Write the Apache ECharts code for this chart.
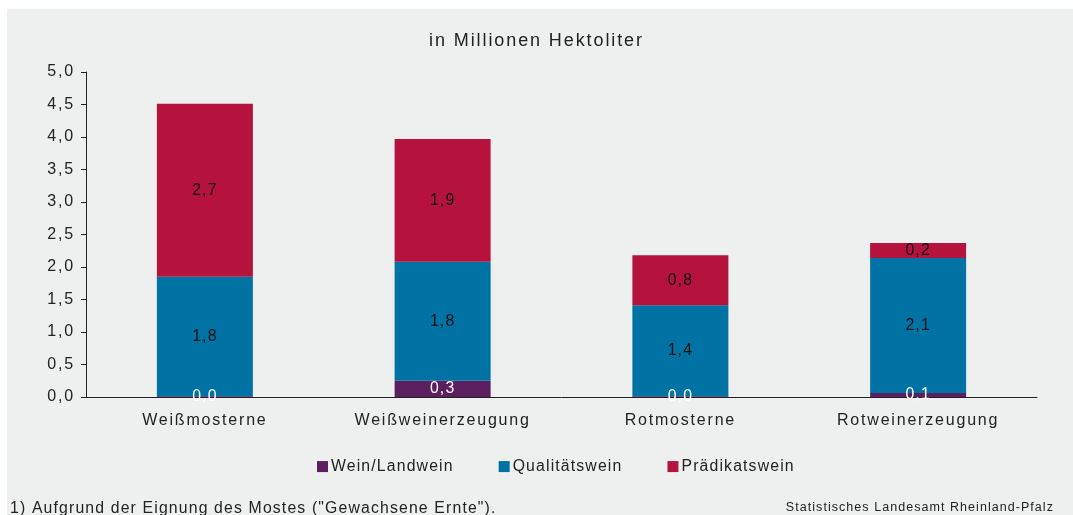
<!DOCTYPE html>
<html>
<head>
<meta charset="utf-8">
<script src="https://cdn.jsdelivr.net/npm/echarts@6/dist/echarts.min.js"></script>
<style>
html,body{margin:0;padding:0;background:#ffffff;}
#chart{width:1073px;height:515px;}
</style>
</head>
<body>
<div id="chart"></div>
<script>
const categories = ['Weißmosterne', 'Weißweinerzeugung', 'Rotmosterne', 'Rotweinerzeugung'];
const weinLandwein = [0.01, 0.25, 0.01, 0.06];
const qualitaetswein = [1.84, 1.83, 1.40, 2.08];
const praedikatswein = [2.66, 1.89, 0.77, 0.23];
const seriesNames = ['Wein/Landwein', 'Qualitätswein', 'Prädikatswein'];

const fmt = v => v.toFixed(1).replace('.', ',');
const font = 'Liberation Sans';

// letter spacing per font size (style only)
const spacingBySize = {18: 1.9, 16: 1.8, 15.8: 1.15, 12.5: 1.05};
(function () {
  const proto = CanvasRenderingContext2D.prototype;
  if (!('letterSpacing' in proto)) return;
  const getLS = ctx => {
    const m = /([\d.]+)px/.exec(ctx.font || '');
    const s = m ? parseFloat(m[1]) : 0;
    const v = spacingBySize[s];
    return v ? v + 'px' : '0px';
  };
  ['fillText', 'strokeText', 'measureText'].forEach(fn => {
    const orig = proto[fn];
    proto[fn] = function () {
      const prev = this.letterSpacing;
      this.letterSpacing = getLS(this);
      const r = orig.apply(this, arguments);
      this.letterSpacing = prev;
      return r;
    };
  });
})();

const chart = echarts.init(document.getElementById('chart'), null, {renderer: 'canvas'});

function mkSeries(name, data, color, labelColor) {
  return {
    name: name,
    type: 'bar',
    stack: 'total',
    data: data,
    barWidth: 96,
    itemStyle: {color: color},
    label: {
      show: true,
      position: 'inside',
      color: labelColor,
      fontFamily: font,
      fontSize: 15.8,
      formatter: p => fmt(p.value)
    }
  };
}

chart.setOption({
  backgroundColor: '#ffffff',
  animation: false,
  textStyle: {fontFamily: font},
  graphic: [
    {type: 'rect', left: 7, top: 9, z: -10, shape: {width: 1066, height: 506}, style: {fill: '#EEEFEF'}, silent: true},
    {type: 'text', left: 10, top: 500, style: {text: '1) Aufgrund der Eignung des Mostes ("Gewachsene Ernte").', font: '15.8px ' + font, fill: '#222'}},
    {type: 'text', right: 19, top: 501, style: {text: 'Statistisches Landesamt Rheinland-Pfalz', font: '12.5px ' + font, fill: '#222'}}
  ],
  title: {
    text: 'in Millionen Hektoliter',
    left: 'center',
    top: 26,
    textStyle: {fontFamily: font, fontSize: 18, fontWeight: 'normal', color: '#222'}
  },
  legend: {
    data: seriesNames,
    top: 453,
    left: 312,
    itemWidth: 11,
    itemHeight: 11,
    itemGap: 45,
    icon: 'rect',
    textStyle: {fontFamily: font, fontSize: 15.8, color: '#222', padding: [0, 0, 0, -2]}
  },
  grid: {left: 86, right: 36, top: 72, bottom: 118, containLabel: false},
  xAxis: {
    type: 'category',
    data: categories,
    axisLine: {lineStyle: {color: '#222', width: 1}},
    axisTick: {show: false},
    axisLabel: {fontFamily: font, fontSize: 16, color: '#222', margin: 15}
  },
  yAxis: {
    type: 'value',
    min: 0,
    max: 5,
    interval: 0.5,
    splitLine: {show: false},
    axisLine: {show: true, lineStyle: {color: '#222', width: 1}},
    axisTick: {show: true, length: 5, lineStyle: {color: '#222'}},
    axisLabel: {fontFamily: font, fontSize: 16, color: '#222', margin: 11, formatter: v => fmt(v)}
  },
  series: [
    mkSeries(seriesNames[0], weinLandwein, '#5B1F5F', '#ffffff'),
    mkSeries(seriesNames[1], qualitaetswein, '#0072A4', '#111111'),
    mkSeries(seriesNames[2], praedikatswein, '#B5133D', '#111111')
  ]
});
</script>
</body>
</html>
